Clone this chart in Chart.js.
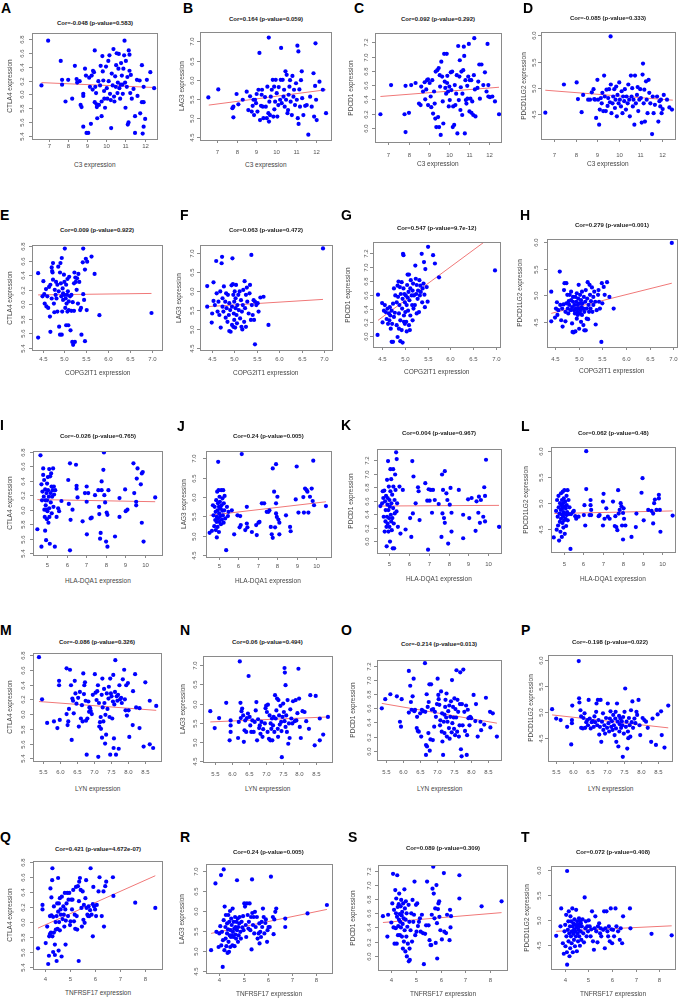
<!DOCTYPE html>
<html>
<head>
<meta charset="utf-8">
<script src="https://cdn.jsdelivr.net/npm/chart.js@4.4.1/dist/chart.umd.min.js"></script>
<style>
  body { margin: 0; background: #fff; width: 678px; height: 1001px; position: relative; overflow: hidden;
         font-family: "Liberation Sans", Arial, sans-serif; }
  canvas { position: absolute; }
  .letter { position: absolute; font-weight: bold; font-size: 14px; line-height: 1; color: #000; }
  .ttl { position: absolute; font-weight: bold; font-size: 6px; line-height: 8px; height: 8px; color: #222; white-space: nowrap; }
  .axt { position: absolute; font-size: 6.5px; line-height: 8px; height: 8px; color: #444; white-space: nowrap; }
</style>
</head>
<body>
<script>
// genes on the axes: rows share the x gene, columns share the y gene
const panelIds = ['A','B','C','D','E','F','G','H','I','J','K','L','M','N','O','P','Q','R','S','T'];
const xGenes = ['C3', 'COPG2IT1', 'HLA-DQA1', 'LYN', 'TNFRSF17'];
const yGenes = ['CTLA4', 'LAG3', 'PDCD1', 'PDCD1LG2'];

const corLabels = [
  'Cor=-0.048 (p-value=0.583)', 'Cor=0.164 (p-value=0.059)', 'Cor=0.092 (p-value=0.292)', 'Cor=-0.085 (p-value=0.333)',
  'Cor=0.009 (p-value=0.922)', 'Cor=0.063 (p-value=0.472)', 'Cor=0.547 (p-value=9.7e-12)', 'Cor=0.279 (p-value=0.001)',
  'Cor=-0.026 (p-value=0.765)', 'Cor=0.24 (p-value=0.005)', 'Cor=0.004 (p-value=0.967)', 'Cor=0.062 (p-value=0.48)',
  'Cor=-0.086 (p-value=0.326)', 'Cor=0.06 (p-value=0.494)', 'Cor=-0.214 (p-value=0.013)', 'Cor=-0.198 (p-value=0.022)',
  'Cor=0.421 (p-value=4.672e-07)', 'Cor=0.24 (p-value=0.005)', 'Cor=0.089 (p-value=0.309)', 'Cor=0.072 (p-value=0.408)'
];

const xTickLabels = [
  ['7', '8', '9', '10', '11', '12'],
  ['4.5', '5.0', '5.5', '6.0', '6.5', '7.0'],
  ['5', '6', '7', '8', '9', '10'],
  ['5.5', '6.0', '6.5', '7.0', '7.5', '8.0', '8.5'],
  ['4', '5', '6', '7', '8']
];
const yTickLabels = [
  ['5.4', '5.6', '5.8', '6.0', '6.2', '6.4', '6.6', '6.8'],
  ['4.5', '5.0', '5.5', '6.0', '6.5', '7.0'],
  ['6.0', '6.2', '6.4', '6.6', '6.8', '7.0', '7.2'],
  ['4.5', '5.0', '5.5', '6.0']
];

// sample points [x, y]
const ptsA = [[6.6,6.13],[6.95,6.77],[7.61,6.48],[7.68,6.21],[7.68,6.14],[7.86,5.9],[8.0,6.21],[8.21,5.94],[8.35,6.41],[8.44,6.22],[8.47,6.17],[8.6,6.19],[8.65,5.85],[8.7,5.82],[8.79,6.01],[8.79,5.98],[8.79,5.54],[8.88,6.37],[8.93,6.27],[8.96,5.45],[9.05,5.45],[9.1,6.24],[9.14,6.11],[9.19,5.58],[9.23,6.27],[9.28,6.07],[9.3,6.34],[9.35,6.32],[9.39,6.63],[9.39,5.89],[9.42,6.11],[9.46,6.02],[9.49,5.86],[9.5,5.82],[9.52,5.66],[9.58,6.19],[9.61,5.85],[9.67,6.13],[9.7,6.41],[9.75,5.9],[9.75,5.69],[9.79,6.55],[9.81,6.33],[9.84,6.2],[9.88,6.05],[9.89,5.94],[9.93,5.81],[9.98,6.4],[10.02,6.09],[10.05,5.94],[10.1,6.48],[10.12,6.19],[10.16,6.56],[10.19,6.01],[10.23,5.92],[10.25,5.52],[10.28,6.3],[10.33,6.13],[10.37,6.65],[10.4,5.97],[10.42,5.9],[10.46,6.26],[10.49,6.11],[10.51,6.42],[10.54,6.59],[10.58,6.02],[10.6,6.17],[10.63,6.37],[10.65,6.58],[10.68,6.09],[10.72,5.94],[10.75,6.14],[10.77,6.45],[10.81,6.27],[10.84,6.14],[10.86,6.01],[10.89,6.37],[10.93,6.56],[10.95,6.77],[10.98,6.17],[11.0,5.81],[11.02,6.48],[11.07,6.11],[11.1,6.25],[11.12,5.57],[11.16,5.6],[11.17,6.63],[11.21,6.34],[11.21,6.57],[11.25,6.02],[11.28,6.28],[11.33,5.94],[11.42,6.08],[11.5,5.69],[11.5,5.45],[11.6,6.21],[11.63,5.98],[11.74,6.2],[11.77,5.73],[11.86,6.42],[11.86,5.89],[11.95,6.11],[11.95,5.89],[11.95,5.54],[11.9,5.44],[12.03,5.65],[12.12,6.21],[12.3,6.32],[12.5,6.09]];
const ptsB = [[6.58,5.54],[7.08,5.75],[7.79,5.26],[7.84,5.02],[7.84,5.3],[8.0,5.63],[8.09,5.36],[8.31,5.48],[8.51,5.69],[8.59,5.21],[8.68,5.57],[8.76,5.17],[8.81,5.32],[8.85,5.48],[8.88,5.08],[8.93,5.48],[8.98,5.39],[9.01,5.63],[9.05,5.17],[9.1,5.74],[9.15,6.7],[9.18,4.95],[9.23,5.32],[9.26,5.61],[9.28,5.74],[9.32,5.3],[9.35,5.0],[9.43,5.55],[9.47,5.3],[9.52,5.0],[9.55,5.82],[9.6,5.13],[9.62,7.1],[9.63,4.91],[9.65,5.43],[9.68,5.08],[9.72,5.56],[9.77,5.74],[9.82,6.0],[9.85,5.04],[9.89,5.82],[9.9,5.23],[9.94,5.43],[9.97,6.0],[10.02,5.65],[10.05,5.04],[10.1,5.34],[10.12,5.81],[10.19,5.48],[10.22,6.0],[10.24,6.83],[10.27,5.39],[10.32,6.0],[10.36,5.56],[10.39,5.74],[10.42,5.3],[10.46,6.22],[10.49,5.48],[10.52,6.13],[10.56,5.13],[10.59,5.21],[10.62,5.61],[10.66,5.82],[10.69,5.99],[10.72,5.43],[10.78,5.08],[10.81,6.1],[10.86,5.56],[10.89,5.74],[10.94,5.34],[10.99,5.91],[11.03,5.48],[11.06,6.89],[11.08,5.0],[11.11,6.74],[11.12,4.85],[11.16,5.75],[11.19,5.3],[11.24,5.99],[11.28,6.22],[11.3,5.52],[11.36,5.08],[11.45,5.32],[11.53,5.34],[11.61,4.57],[11.7,5.56],[11.78,5.3],[11.87,6.17],[11.9,5.04],[11.95,5.84],[11.97,6.95],[12.0,5.48],[12.03,4.95],[12.17,5.95],[12.34,5.74],[12.5,5.13]];
const ptsC = [[6.6,6.19],[7.13,6.6],[7.8,6.19],[7.85,6.59],[7.85,5.94],[8.02,6.21],[8.13,6.6],[8.35,6.63],[8.52,6.34],[8.6,6.32],[8.63,6.58],[8.72,6.51],[8.8,6.64],[8.83,6.4],[8.88,6.54],[8.92,6.67],[8.97,6.68],[8.97,6.32],[9.05,6.63],[9.1,6.44],[9.13,6.29],[9.18,6.67],[9.22,6.2],[9.27,6.51],[9.3,6.34],[9.33,6.13],[9.35,6.79],[9.38,6.01],[9.43,6.81],[9.47,6.15],[9.5,6.84],[9.52,6.01],[9.55,6.74],[9.57,6.58],[9.6,5.9],[9.63,6.93],[9.67,6.72],[9.7,6.37],[9.73,6.06],[9.77,7.04],[9.8,6.65],[9.83,6.56],[9.87,6.48],[9.9,7.04],[9.92,6.63],[9.93,6.73],[9.97,6.51],[10.0,6.3],[10.03,6.58],[10.05,6.39],[10.1,6.78],[10.13,6.53],[10.17,6.79],[10.2,6.01],[10.22,6.3],[10.27,6.04],[10.3,6.6],[10.33,6.32],[10.37,6.48],[10.4,6.74],[10.43,5.92],[10.47,7.15],[10.5,6.39],[10.53,6.72],[10.55,6.95],[10.58,6.25],[10.6,6.57],[10.63,6.79],[10.67,6.18],[10.68,6.48],[10.72,6.81],[10.75,7.14],[10.77,7.01],[10.8,5.92],[10.83,6.67],[10.85,6.39],[10.88,6.34],[10.92,6.59],[10.93,6.41],[10.97,6.72],[11.0,7.18],[11.03,6.23],[11.05,6.67],[11.08,6.41],[11.12,6.67],[11.13,6.21],[11.17,6.37],[11.22,6.18],[11.25,6.74],[11.27,7.26],[11.3,6.54],[11.33,6.16],[11.43,6.56],[11.47,6.65],[11.52,6.89],[11.55,6.41],[11.63,6.89],[11.72,6.6],[11.8,6.78],[11.88,6.51],[11.93,7.18],[11.97,6.6],[11.97,6.44],[12.05,6.43],[12.17,6.44],[12.3,6.37],[12.5,6.19]];
const ptsD = [[6.6,4.52],[7.46,5.06],[8.05,5.1],[8.11,4.78],[8.28,4.53],[8.35,4.86],[8.58,4.77],[8.67,4.77],[8.75,4.91],[8.83,4.97],[8.86,4.78],[8.9,4.77],[8.95,4.42],[9.01,5.15],[9.04,4.77],[9.09,4.29],[9.12,4.58],[9.17,4.8],[9.21,4.7],[9.24,4.9],[9.28,4.55],[9.32,5.23],[9.35,4.83],[9.4,4.55],[9.43,4.96],[9.48,4.65],[9.51,4.8],[9.55,4.97],[9.59,4.72],[9.63,5.06],[9.66,4.51],[9.62,5.98],[9.71,4.7],[9.74,4.83],[9.79,4.97],[9.82,4.61],[9.85,4.77],[9.88,5.02],[9.91,4.45],[9.94,4.86],[9.99,4.7],[10.02,5.1],[10.05,4.77],[10.1,4.64],[10.13,4.93],[10.17,4.51],[10.2,4.83],[10.25,4.74],[10.28,4.97],[10.33,4.58],[10.36,4.83],[10.41,4.7],[10.44,5.06],[10.48,4.77],[10.51,4.45],[10.56,5.23],[10.59,4.83],[10.62,4.99],[10.65,4.64],[10.68,4.77],[10.72,4.29],[10.75,5.23],[10.79,4.7],[10.84,4.86],[10.87,5.01],[10.9,4.55],[10.95,4.77],[10.99,4.97],[11.02,4.8],[11.06,4.33],[11.1,5.25],[11.12,5.46],[11.15,4.7],[11.18,4.96],[11.21,4.35],[11.26,5.12],[11.29,4.77],[11.33,4.51],[11.38,5.15],[11.41,4.9],[11.46,4.7],[11.54,4.11],[11.57,4.83],[11.61,4.51],[11.67,4.67],[11.77,4.83],[11.83,4.35],[11.88,4.74],[11.92,4.64],[11.95,4.77],[11.98,4.51],[12.03,4.59],[12.08,4.86],[12.23,4.77],[12.34,4.62],[12.46,4.58]];
const ptsE = [[4.4,6.43],[4.4,5.54],[4.5,6.11],[4.52,6.32],[4.54,6.14],[4.55,6.01],[4.58,6.21],[4.59,5.97],[4.61,6.11],[4.63,5.95],[4.65,6.24],[4.67,5.83],[4.68,6.27],[4.68,5.62],[4.71,6.51],[4.71,6.08],[4.72,6.46],[4.73,6.44],[4.74,6.57],[4.74,6.34],[4.76,6.01],[4.77,5.89],[4.78,6.2],[4.8,6.13],[4.81,6.31],[4.82,6.08],[4.84,6.27],[4.84,5.9],[4.86,6.52],[4.87,6.18],[4.88,5.69],[4.9,6.44],[4.9,5.58],[4.91,6.57],[4.92,6.29],[4.93,6.11],[4.94,5.58],[4.94,6.64],[4.95,5.9],[4.96,6.22],[4.97,6.15],[4.97,6.06],[4.99,6.41],[5.0,6.13],[5.0,6.31],[5.01,6.77],[5.02,5.95],[5.03,6.08],[5.04,6.27],[5.04,5.71],[5.05,6.01],[5.06,6.13],[5.07,5.9],[5.07,6.35],[5.08,6.18],[5.09,5.71],[5.1,5.92],[5.1,6.04],[5.11,6.38],[5.13,6.11],[5.14,5.64],[5.16,6.13],[5.16,5.91],[5.18,5.48],[5.19,6.03],[5.2,5.44],[5.22,6.29],[5.22,5.91],[5.23,6.44],[5.24,5.48],[5.25,6.37],[5.26,6.31],[5.28,6.2],[5.29,6.36],[5.31,6.01],[5.32,6.42],[5.34,6.31],[5.36,5.92],[5.38,5.95],[5.39,5.58],[5.42,6.58],[5.43,6.77],[5.43,6.14],[5.45,6.06],[5.47,6.48],[5.47,5.49],[5.49,6.63],[5.51,5.92],[5.52,6.59],[5.62,6.66],[5.69,6.42],[5.8,5.85],[6.99,5.88]];
const ptsF = [[4.4,6.12],[4.4,5.58],[4.5,5.16],[4.51,5.4],[4.54,5.73],[4.54,6.22],[4.57,5.62],[4.6,6.78],[4.61,5.93],[4.63,5.45],[4.65,5.71],[4.67,5.36],[4.69,5.98],[4.7,5.03],[4.72,6.72],[4.73,6.89],[4.74,5.58],[4.74,5.8],[4.76,5.45],[4.77,6.11],[4.8,5.71],[4.81,5.29],[4.82,5.93],[4.83,5.54],[4.85,5.18],[4.86,5.89],[4.88,5.36],[4.89,4.94],[4.89,5.67],[4.91,5.49],[4.92,4.92],[4.94,6.14],[4.95,5.1],[4.95,5.58],[4.96,6.85],[4.97,6.17],[4.98,5.89],[4.98,5.05],[4.99,5.4],[5.0,5.71],[5.0,5.23],[5.01,5.98],[5.02,5.03],[5.03,5.54],[5.03,5.8],[5.04,6.15],[5.05,5.36],[5.06,5.14],[5.07,5.62],[5.09,5.89],[5.1,5.49],[5.12,5.98],[5.13,5.27],[5.15,5.75],[5.16,5.05],[5.17,5.45],[5.18,4.98],[5.19,5.62],[5.2,6.02],[5.22,5.18],[5.23,6.25],[5.24,5.54],[5.26,5.89],[5.26,5.05],[5.28,6.08],[5.29,5.71],[5.32,5.4],[5.34,5.93],[5.35,6.15],[5.37,5.23],[5.38,6.94],[5.39,5.62],[5.41,5.36],[5.43,5.75],[5.44,5.23],[5.46,4.59],[5.46,5.71],[5.49,5.62],[5.52,5.67],[5.54,5.45],[5.58,5.82],[5.65,5.84],[5.76,5.1],[6.97,7.11]];
const ptsG = [[4.41,6.6],[4.4,6.02],[4.5,6.48],[4.51,6.2],[4.54,6.37],[4.56,6.45],[4.58,6.35],[4.6,6.25],[4.62,6.4],[4.63,6.18],[4.65,6.33],[4.66,6.23],[4.67,6.42],[4.68,6.3],[4.69,6.11],[4.71,6.37],[4.71,5.92],[4.72,6.18],[4.74,5.92],[4.74,6.47],[4.76,6.28],[4.76,6.69],[4.78,6.34],[4.79,6.59],[4.82,6.16],[4.82,6.49],[4.84,6.73],[4.84,5.99],[4.85,6.57],[4.86,6.79],[4.87,6.33],[4.87,6.11],[4.88,6.45],[4.89,6.71],[4.9,5.93],[4.9,6.23],[4.91,6.61],[4.93,6.78],[4.93,6.09],[4.94,6.4],[4.95,5.91],[4.95,6.54],[4.96,7.19],[4.97,6.69],[4.97,7.17],[4.98,6.3],[4.98,6.21],[4.99,6.61],[5.0,6.49],[5.0,6.18],[5.01,6.35],[5.02,6.59],[5.03,6.21],[5.04,6.07],[5.04,6.45],[5.05,6.74],[5.06,6.56],[5.06,6.89],[5.07,6.37],[5.08,6.64],[5.09,6.16],[5.09,6.89],[5.1,6.52],[5.11,6.09],[5.12,6.69],[5.12,6.3],[5.13,6.81],[5.15,6.59],[5.16,6.45],[5.17,6.23],[5.17,6.66],[5.18,6.76],[5.19,6.4],[5.2,6.59],[5.22,6.45],[5.23,7.02],[5.24,6.83],[5.25,6.61],[5.26,6.33],[5.26,6.74],[5.28,6.54],[5.29,6.66],[5.31,6.35],[5.32,6.81],[5.33,6.59],[5.34,6.73],[5.35,6.64],[5.37,7.19],[5.38,6.49],[5.39,6.69],[5.41,6.76],[5.42,7.07],[5.43,6.6],[5.44,6.42],[5.45,6.97],[5.48,6.71],[5.5,6.5],[5.51,7.29],[5.62,7.17],[5.66,7.05],[5.75,6.85],[6.98,6.95]];
const ptsH = [[4.42,5.07],[4.42,4.51],[4.5,4.58],[4.52,4.75],[4.54,4.87],[4.55,4.63],[4.57,4.72],[4.6,5.45],[4.61,4.82],[4.63,4.53],[4.65,4.75],[4.66,4.41],[4.68,4.83],[4.69,5.1],[4.7,5.23],[4.72,4.51],[4.72,4.69],[4.74,5.23],[4.74,4.85],[4.76,5.01],[4.77,4.75],[4.78,4.66],[4.79,4.89],[4.8,4.82],[4.81,5.01],[4.83,4.72],[4.84,4.91],[4.84,5.07],[4.86,4.47],[4.86,4.78],[4.87,4.31],[4.88,4.88],[4.88,4.97],[4.89,4.3],[4.9,4.72],[4.91,4.82],[4.92,4.66],[4.93,4.97],[4.93,4.32],[4.94,4.75],[4.95,4.88],[4.96,4.56],[4.96,5.04],[4.97,4.69],[4.98,4.82],[4.98,4.63],[4.99,4.94],[5.0,5.2],[5.0,4.75],[5.01,4.37],[5.02,4.85],[5.03,4.66],[5.03,5.01],[5.04,4.72],[5.05,4.91],[5.05,4.5],[5.06,4.78],[5.07,5.07],[5.07,4.63],[5.08,4.85],[5.1,4.44],[5.1,4.75],[5.11,4.97],[5.12,4.34],[5.12,4.69],[5.14,4.88],[5.15,4.34],[5.15,5.1],[5.17,4.75],[5.17,4.56],[5.18,4.94],[5.19,5.25],[5.2,4.55],[5.21,4.82],[5.22,4.69],[5.23,5.2],[5.24,5.01],[5.25,4.75],[5.26,4.89],[5.28,5.15],[5.29,4.69],[5.31,4.97],[5.31,4.82],[5.33,5.07],[5.35,4.88],[5.36,4.45],[5.38,4.72],[5.41,5.01],[5.42,5.1],[5.43,4.88],[5.45,4.75],[5.48,4.12],[5.49,5.23],[5.5,4.85],[5.53,5.16],[5.55,5.01],[5.6,5.25],[5.65,4.97],[5.74,4.75],[6.97,5.99]];
const ptsI = [[4.48,5.73],[4.64,6.75],[4.69,5.49],[4.69,6.35],[4.72,6.13],[4.74,6.25],[4.78,6.48],[4.78,6.57],[4.81,6.18],[4.83,6.41],[4.84,6.0],[4.86,5.9],[4.88,6.28],[4.88,5.71],[4.9,6.13],[4.91,6.06],[4.93,5.58],[4.95,6.23],[4.95,6.0],[4.97,5.87],[4.98,6.36],[4.98,6.13],[5.0,5.98],[5.02,6.45],[5.03,6.27],[5.05,5.82],[5.07,6.18],[5.09,6.56],[5.09,6.02],[5.1,5.9],[5.12,5.53],[5.14,6.46],[5.16,6.23],[5.17,6.1],[5.19,6.5],[5.21,6.32],[5.22,5.95],[5.24,6.18],[5.26,6.27],[5.29,6.57],[5.31,6.04],[5.33,6.32],[5.34,6.21],[5.38,5.49],[5.4,6.27],[5.47,5.9],[5.55,6.02],[5.6,5.98],[5.72,6.12],[6.07,6.41],[6.1,6.08],[6.16,6.64],[6.16,5.44],[6.19,5.86],[6.29,6.0],[6.47,6.62],[6.5,6.33],[6.5,6.29],[6.55,6.17],[6.81,5.84],[6.93,6.23],[7.02,6.32],[7.02,6.11],[7.03,5.66],[7.1,6.23],[7.22,5.88],[7.28,5.89],[7.45,6.2],[7.62,6.27],[7.66,6.04],[7.67,5.94],[7.71,5.6],[7.74,5.68],[7.79,6.39],[7.79,6.27],[7.88,6.55],[7.91,6.79],[7.93,6.2],[7.97,6.1],[8.02,5.56],[8.05,5.96],[8.09,5.93],[8.09,5.49],[8.14,6.27],[8.48,5.63],[8.71,6.16],[8.71,5.9],[9.0,6.28],[9.03,5.98],[9.12,6.0],[9.43,6.64],[9.47,6.23],[9.57,6.11],[9.57,6.06],[9.6,6.43],[9.64,6.57],[9.81,6.35],[9.86,6.5],[9.91,6.52],[9.86,5.82],[9.95,5.56],[10.55,6.17]];
const ptsJ = [[4.54,5.08],[4.66,5.13],[4.71,5.79],[4.74,5.53],[4.78,5.25],[4.8,5.75],[4.83,5.41],[4.85,5.62],[4.86,5.15],[4.88,5.92],[4.9,5.36],[4.91,5.49],[4.91,4.96],[4.93,6.14],[4.95,5.66],[4.95,5.23],[4.97,5.84],[4.98,5.45],[4.98,6.91],[5.0,6.18],[5.02,5.75],[5.02,5.1],[5.03,5.58],[5.05,6.01],[5.05,5.36],[5.07,5.88],[5.09,5.51],[5.1,5.71],[5.12,5.3],[5.14,6.18],[5.15,5.79],[5.17,5.42],[5.19,5.65],[5.2,5.97],[5.22,5.53],[5.24,6.18],[5.26,5.34],[5.27,5.84],[5.29,5.66],[5.31,6.03],[5.34,5.45],[5.39,4.63],[5.43,5.75],[5.48,5.51],[5.51,5.62],[5.68,5.66],[5.8,5.04],[5.97,5.53],[6.08,5.22],[6.11,5.51],[6.14,5.28],[6.19,7.11],[6.37,5.15],[6.45,5.75],[6.45,5.32],[6.48,5.22],[6.71,5.1],[6.93,5.28],[6.96,5.02],[7.05,5.34],[7.1,5.36],[7.22,5.84],[7.34,5.84],[7.47,5.62],[7.56,5.62],[7.61,5.66],[7.68,5.23],[7.73,5.04],[7.78,4.95],[7.78,6.74],[7.85,6.14],[7.9,5.22],[7.95,6.85],[7.95,5.84],[7.95,5.58],[7.99,5.49],[8.02,6.01],[8.07,5.42],[8.12,5.34],[8.12,5.04],[8.46,5.53],[8.67,5.23],[8.7,5.12],[8.96,5.94],[9.01,6.79],[9.1,5.6],[9.35,6.0],[9.38,5.6],[9.44,6.22],[9.52,6.18],[9.56,6.14],[9.61,5.6],[9.69,6.01],[9.78,6.22],[9.83,5.9],[9.86,6.94],[9.9,5.79],[10.51,5.77]];
const ptsK = [[4.54,6.52],[4.63,6.56],[4.66,6.74],[4.69,6.64],[4.71,6.36],[4.74,6.75],[4.76,6.14],[4.78,6.59],[4.8,6.29],[4.81,6.46],[4.83,6.67],[4.85,6.21],[4.86,5.92],[4.88,6.91],[4.88,6.36],[4.9,6.54],[4.91,6.64],[4.91,6.26],[4.93,7.19],[4.95,6.46],[4.95,6.14],[4.97,6.81],[4.98,6.34],[5.0,6.61],[5.0,6.21],[5.02,6.51],[5.03,5.99],[5.05,7.07],[5.05,6.74],[5.07,6.39],[5.09,6.92],[5.09,6.29],[5.1,6.56],[5.12,6.16],[5.14,6.69],[5.15,6.34],[5.17,5.89],[5.19,7.07],[5.19,6.49],[5.2,6.81],[5.22,6.26],[5.24,5.89],[5.26,6.61],[5.27,6.41],[5.29,6.99],[5.31,6.76],[5.34,7.32],[5.36,6.44],[5.37,7.22],[5.39,6.56],[5.43,6.21],[5.51,6.81],[5.56,6.11],[5.68,6.76],[5.82,6.17],[6.05,6.34],[6.11,6.06],[6.16,7.19],[6.19,6.41],[6.22,6.96],[6.33,6.56],[6.45,6.8],[6.48,6.74],[6.53,6.31],[6.82,6.86],[6.92,6.6],[6.96,5.87],[6.99,6.77],[7.04,6.6],[7.09,6.76],[7.16,6.42],[7.21,6.76],[7.3,6.61],[7.5,6.55],[7.64,6.06],[7.67,6.99],[7.69,6.41],[7.72,6.76],[7.77,6.34],[7.81,6.27],[7.81,7.04],[7.89,6.71],[7.94,6.61],[7.98,5.96],[8.06,6.54],[8.1,6.79],[8.15,6.42],[8.15,6.14],[8.52,6.76],[8.74,6.39],[8.74,6.04],[8.99,6.62],[9.05,6.34],[9.17,6.64],[9.37,6.15],[9.42,6.59],[9.51,6.42],[9.54,6.66],[9.59,6.27],[9.64,6.61],[9.76,6.36],[9.81,6.8],[9.85,6.67],[9.9,7.21],[9.85,6.29],[10.56,6.21]];
const ptsL = [[4.49,4.33],[4.61,4.84],[4.64,4.48],[4.66,5.05],[4.69,4.73],[4.71,4.56],[4.73,5.13],[4.74,4.91],[4.76,4.27],[4.78,4.79],[4.8,4.63],[4.81,4.99],[4.83,4.44],[4.85,4.86],[4.86,4.69],[4.86,5.18],[4.88,4.95],[4.9,4.34],[4.9,4.77],[4.91,5.05],[4.93,4.61],[4.93,4.89],[4.95,5.21],[4.97,4.73],[4.97,4.99],[4.98,4.52],[4.98,4.82],[5.0,5.08],[5.02,4.66],[5.02,4.92],[5.03,5.24],[5.05,4.4],[5.05,4.79],[5.07,5.02],[5.09,4.69],[5.1,4.89],[5.12,4.55],[5.14,5.13],[5.14,4.76],[5.15,4.95],[5.17,4.82],[5.19,5.24],[5.2,4.66],[5.24,5.05],[5.26,4.78],[5.29,4.91],[5.34,4.11],[5.37,4.78],[5.46,4.82],[5.51,4.84],[5.58,4.74],[5.63,4.69],[5.75,4.73],[6.02,4.76],[6.05,4.95],[6.09,4.56],[6.14,5.26],[6.14,5.99],[6.31,4.76],[6.36,5.05],[6.36,4.95],[6.39,4.86],[6.39,4.76],[6.77,4.74],[6.82,4.76],[6.99,5.02],[6.99,4.56],[7.02,5.17],[7.07,4.69],[7.16,4.89],[7.24,4.73],[7.33,4.69],[7.5,5.02],[7.59,4.55],[7.62,4.74],[7.67,4.53],[7.72,4.47],[7.76,5.24],[7.79,4.79],[7.84,4.86],[7.89,4.99],[7.93,4.93],[7.96,4.56],[8.01,4.8],[8.01,4.29],[8.04,4.89],[8.06,4.69],[8.13,4.56],[8.44,4.34],[8.66,4.53],[8.69,4.79],[8.95,5.19],[9.0,5.47],[9.06,4.66],[9.29,4.86],[9.46,4.84],[9.54,4.6],[9.54,4.79],[9.59,4.99],[9.63,5.06],[9.71,4.86],[9.83,5.08],[9.83,5.15],[9.88,4.86],[9.91,4.44],[10.53,4.75]];
const ptsM = [[5.38,6.77],[5.47,6.2],[5.62,5.88],[5.82,5.9],[5.92,5.81],[5.97,6.45],[5.97,6.39],[5.99,5.92],[6.19,6.62],[6.19,6.0],[6.22,5.85],[6.24,5.9],[6.26,6.07],[6.29,6.6],[6.32,6.39],[6.34,5.65],[6.36,6.21],[6.38,6.18],[6.4,6.01],[6.43,6.45],[6.45,6.28],[6.48,6.14],[6.53,6.22],[6.55,5.83],[6.58,6.3],[6.61,5.94],[6.64,6.12],[6.66,5.9],[6.68,6.55],[6.7,6.27],[6.71,6.39],[6.73,6.43],[6.75,6.18],[6.76,5.91],[6.78,5.45],[6.8,5.94],[6.83,6.17],[6.85,6.03],[6.86,6.09],[6.88,6.08],[6.9,6.04],[6.93,6.0],[6.96,6.26],[7.02,6.54],[7.04,6.29],[7.07,6.19],[7.09,6.31],[7.11,6.39],[7.12,5.42],[7.14,6.15],[7.15,5.83],[7.17,5.89],[7.19,5.96],[7.2,5.8],[7.22,6.26],[7.23,5.68],[7.24,6.48],[7.25,6.09],[7.27,5.9],[7.29,6.34],[7.3,6.15],[7.32,5.6],[7.33,5.99],[7.35,5.72],[7.37,6.28],[7.39,6.07],[7.42,6.21],[7.43,6.37],[7.45,5.96],[7.47,6.48],[7.47,5.45],[7.49,6.28],[7.51,6.24],[7.53,5.94],[7.55,6.17],[7.56,6.53],[7.57,5.54],[7.58,5.67],[7.59,6.13],[7.61,6.3],[7.62,6.73],[7.64,5.45],[7.66,6.24],[7.68,6.18],[7.7,6.26],[7.72,5.53],[7.74,6.39],[7.76,6.2],[7.79,6.22],[7.81,6.15],[7.84,6.47],[7.88,6.6],[7.9,6.2],[7.92,6.05],[7.94,6.39],[7.96,5.98],[7.99,6.42],[8.01,6.05],[8.03,5.69],[8.13,5.85],[8.14,6.31],[8.2,6.54],[8.23,6.09],[8.33,6.08],[8.33,5.81],[8.45,5.56],[8.5,6.43],[8.63,5.59],[8.63,6.18],[8.73,5.54],[8.82,6.11]];
const ptsN = [[5.37,5.8],[5.5,5.36],[5.63,5.62],[5.84,6.02],[5.94,5.04],[5.97,5.43],[5.97,5.56],[5.97,5.26],[6.19,5.1],[6.21,5.52],[6.24,7.1],[6.26,6.02],[6.27,5.62],[6.29,5.8],[6.31,5.87],[6.34,5.69],[6.36,5.0],[6.38,5.3],[6.4,5.56],[6.43,5.26],[6.45,5.62],[6.48,5.74],[6.5,6.72],[6.53,5.65],[6.55,5.43],[6.58,5.26],[6.61,5.56],[6.65,5.26],[6.68,5.52],[6.71,5.82],[6.73,6.04],[6.75,5.04],[6.78,5.59],[6.81,5.36],[6.83,5.43],[6.85,5.21],[6.88,5.52],[6.91,5.13],[6.93,5.33],[6.98,5.48],[7.0,5.88],[7.02,5.95],[7.04,5.78],[7.06,5.26],[7.07,5.97],[7.1,5.08],[7.12,5.69],[7.14,5.04],[7.15,5.48],[7.17,5.34],[7.19,5.61],[7.2,5.04],[7.22,5.43],[7.24,5.65],[7.26,5.26],[7.28,6.22],[7.3,5.61],[7.32,5.82],[7.34,6.13],[7.36,5.34],[7.37,5.13],[7.38,6.09],[7.4,5.69],[7.42,5.45],[7.44,5.94],[7.46,5.52],[7.47,5.28],[7.48,4.6],[7.5,5.65],[7.52,6.0],[7.54,5.78],[7.56,6.93],[7.56,5.54],[7.57,6.81],[7.59,6.48],[7.59,5.39],[7.61,5.69],[7.63,5.26],[7.65,6.09],[7.67,4.95],[7.69,5.48],[7.71,5.1],[7.73,5.85],[7.76,5.61],[7.79,5.48],[7.81,6.06],[7.86,5.54],[7.89,6.09],[7.91,5.56],[7.94,5.75],[7.97,6.91],[7.99,6.13],[8.01,5.39],[8.04,5.1],[8.09,5.8],[8.15,5.78],[8.2,5.54],[8.28,5.34],[8.32,6.22],[8.45,4.91],[8.48,6.2],[8.6,5.61],[8.6,5.04],[8.7,5.19],[8.84,5.65]];
const ptsO = [[5.39,6.6],[5.49,6.73],[5.64,6.8],[5.83,6.77],[5.92,6.41],[5.95,6.34],[5.97,6.73],[6.18,7.13],[6.18,6.54],[6.22,6.92],[6.24,6.69],[6.26,6.58],[6.29,6.77],[6.32,7.02],[6.34,6.56],[6.36,6.58],[6.41,6.32],[6.42,6.48],[6.44,6.28],[6.47,6.27],[6.51,6.53],[6.54,6.2],[6.56,6.58],[6.6,6.56],[6.65,7.24],[6.66,6.55],[6.68,6.08],[6.68,5.94],[6.7,6.8],[6.71,6.06],[6.73,6.62],[6.75,6.25],[6.76,6.69],[6.78,6.94],[6.79,6.0],[6.81,6.16],[6.83,6.94],[6.85,6.58],[6.88,6.15],[6.89,6.59],[6.92,6.34],[6.94,6.55],[6.97,6.48],[7.0,6.66],[7.02,7.02],[7.04,6.79],[7.05,6.73],[7.07,6.65],[7.09,6.36],[7.1,6.43],[7.12,6.84],[7.14,6.27],[7.15,6.53],[7.16,6.13],[7.18,5.94],[7.2,6.41],[7.22,6.51],[7.22,6.25],[7.24,6.62],[7.25,6.72],[7.27,6.47],[7.28,6.81],[7.29,6.2],[7.31,6.41],[7.33,6.56],[7.35,6.32],[7.36,6.64],[7.37,6.17],[7.39,6.48],[7.41,6.7],[7.43,6.26],[7.44,7.0],[7.45,6.39],[7.47,6.62],[7.49,6.47],[7.5,6.31],[7.51,6.74],[7.53,6.22],[7.54,6.59],[7.56,6.47],[7.57,7.14],[7.59,6.27],[7.6,6.72],[7.62,6.55],[7.64,6.2],[7.66,6.36],[7.67,6.66],[7.68,7.11],[7.7,6.02],[7.72,5.92],[7.73,6.66],[7.75,6.36],[7.77,7.15],[7.8,6.55],[7.82,6.28],[7.85,6.64],[7.87,5.94],[7.88,6.22],[7.9,6.58],[7.92,6.46],[7.95,6.36],[7.97,6.48],[8.0,6.46],[8.07,6.79],[8.12,6.42],[8.14,6.66],[8.19,6.2],[8.27,6.41],[8.29,6.29],[8.38,6.37],[8.43,6.75],[8.55,6.55],[8.56,6.33],[8.63,6.53],[8.75,6.2]];
const ptsP = [[5.39,5.05],[5.51,4.87],[5.64,4.84],[5.83,4.71],[5.95,4.37],[5.97,4.78],[5.97,4.84],[5.98,5.12],[6.17,5.98],[6.18,5.26],[6.19,5.18],[6.22,5.03],[6.24,4.91],[6.24,4.69],[6.29,4.68],[6.31,4.88],[6.34,4.97],[6.36,4.69],[6.39,4.8],[6.42,4.84],[6.44,4.74],[6.46,5.23],[6.49,4.87],[6.52,4.68],[6.55,4.8],[6.58,4.82],[6.61,4.71],[6.63,4.91],[6.65,4.8],[6.68,5.0],[6.69,5.16],[6.71,4.74],[6.73,5.23],[6.75,4.84],[6.77,4.56],[6.79,4.71],[6.81,5.23],[6.83,4.42],[6.85,4.81],[6.88,4.97],[6.89,4.65],[6.92,4.74],[6.94,4.58],[6.97,4.88],[7.0,4.69],[7.02,5.16],[7.04,4.78],[7.06,4.62],[7.08,4.87],[7.1,5.01],[7.12,4.71],[7.14,4.82],[7.16,4.65],[7.18,4.94],[7.2,4.74],[7.22,4.55],[7.24,4.87],[7.25,5.0],[7.26,4.68],[7.27,4.42],[7.29,5.16],[7.31,4.81],[7.33,4.33],[7.35,4.92],[7.36,4.62],[7.37,4.76],[7.39,4.87],[7.41,4.69],[7.43,4.82],[7.45,4.74],[7.46,4.13],[7.47,4.9],[7.49,4.58],[7.51,5.0],[7.53,5.45],[7.55,4.71],[7.57,4.81],[7.59,4.29],[7.61,4.62],[7.62,4.49],[7.64,4.88],[7.66,4.74],[7.68,4.52],[7.7,5.03],[7.72,4.8],[7.74,5.2],[7.76,4.69],[7.8,4.87],[7.83,4.78],[7.86,5.0],[7.88,4.94],[7.92,5.23],[7.95,4.74],[7.97,4.55],[8.04,4.88],[8.09,4.84],[8.14,4.81],[8.19,4.69],[8.29,4.42],[8.33,4.87],[8.43,4.36],[8.48,4.95],[8.58,5.01],[8.6,4.55],[8.68,4.31],[8.79,5.12]];
const ptsQ = [[3.7,5.65],[3.88,6.23],[3.88,6.17],[4.01,5.72],[4.07,5.94],[4.11,5.44],[4.14,5.55],[4.15,5.81],[4.18,6.08],[4.18,5.84],[4.2,6.45],[4.22,5.86],[4.24,6.09],[4.24,6.33],[4.27,6.56],[4.28,6.72],[4.28,5.81],[4.31,5.6],[4.31,6.07],[4.34,6.21],[4.34,5.86],[4.38,5.56],[4.38,5.7],[4.41,6.0],[4.42,5.9],[4.45,6.08],[4.45,5.48],[4.47,6.25],[4.49,5.91],[4.51,6.59],[4.51,6.14],[4.53,5.62],[4.54,6.25],[4.55,6.0],[4.58,6.32],[4.58,5.89],[4.61,6.17],[4.62,6.1],[4.65,5.54],[4.66,6.34],[4.69,6.04],[4.72,6.21],[4.74,6.1],[4.76,5.94],[4.78,6.39],[4.8,6.17],[4.81,5.7],[4.82,6.02],[4.85,6.25],[4.88,6.39],[4.91,6.08],[4.93,6.3],[4.96,6.39],[4.99,5.96],[5.01,6.01],[5.04,6.3],[5.07,6.17],[5.09,6.3],[5.12,6.43],[5.15,6.01],[5.18,6.1],[5.2,5.91],[5.23,6.47],[5.26,6.08],[5.28,5.9],[5.31,6.48],[5.34,5.48],[5.35,6.28],[5.36,6.54],[5.39,6.59],[5.42,6.43],[5.45,6.19],[5.47,5.94],[5.5,6.41],[5.53,6.03],[5.55,6.23],[5.58,5.99],[5.61,6.32],[5.64,6.56],[5.66,6.19],[5.69,6.1],[5.72,6.08],[5.74,6.21],[5.77,6.08],[5.8,6.16],[5.82,6.72],[5.86,6.1],[5.91,6.24],[5.91,5.81],[5.93,6.47],[5.96,6.21],[6.0,6.17],[6.04,6.08],[6.07,6.23],[6.14,6.41],[6.18,6.6],[6.27,6.08],[6.34,6.41],[6.36,5.94],[6.41,6.48],[6.45,6.54],[6.72,6.6],[6.74,6.35],[7.62,6.26],[8.43,6.19]];
const ptsR = [[3.66,5.02],[3.84,6.69],[3.88,5.48],[3.97,5.1],[4.0,5.44],[4.04,5.62],[4.07,6.9],[4.08,5.14],[4.11,5.48],[4.14,4.6],[4.15,5.27],[4.18,7.04],[4.18,5.77],[4.21,5.02],[4.22,6.11],[4.25,5.6],[4.26,5.31],[4.27,5.9],[4.29,5.12],[4.32,5.69],[4.32,5.44],[4.34,4.95],[4.36,5.54],[4.37,5.9],[4.38,5.23],[4.4,4.98],[4.41,5.73],[4.43,5.39],[4.44,6.0],[4.45,5.1],[4.47,5.52],[4.48,5.35],[4.49,5.81],[4.51,5.65],[4.52,5.39],[4.54,5.14],[4.55,6.06],[4.56,5.48],[4.58,5.35],[4.59,5.73],[4.62,5.56],[4.63,5.12],[4.65,5.85],[4.66,5.41],[4.67,5.6],[4.69,5.31],[4.7,5.73],[4.73,6.77],[4.73,5.52],[4.76,5.81],[4.77,5.23],[4.78,5.6],[4.8,5.39],[4.82,5.69],[4.84,5.85],[4.87,5.48],[4.89,5.31],[4.92,5.73],[4.95,5.59],[4.98,5.87],[5.0,5.52],[5.03,6.19],[5.06,6.11],[5.09,5.65],[5.11,5.35],[5.14,6.19],[5.17,5.9],[5.2,5.56],[5.22,5.73],[5.25,6.19],[5.28,5.52],[5.31,5.85],[5.33,5.04],[5.35,6.79],[5.36,5.95],[5.39,5.65],[5.42,5.85],[5.44,5.44],[5.47,5.98],[5.5,5.6],[5.55,5.85],[5.58,5.31],[5.62,5.44],[5.65,5.69],[5.66,5.19],[5.69,5.48],[5.72,5.35],[5.75,5.73],[5.77,5.6],[5.8,6.06],[5.83,5.85],[5.86,5.44],[5.9,5.7],[5.92,5.79],[5.97,5.23],[5.99,5.52],[6.03,5.6],[6.08,5.6],[6.13,6.86],[6.21,5.85],[6.24,5.42],[6.27,5.79],[6.31,5.98],[6.35,6.06],[6.72,5.81],[6.72,5.6],[7.64,5.94],[8.44,6.15]];
const ptsS = [[3.66,6.56],[3.84,6.27],[3.87,6.58],[4.0,6.47],[4.04,6.74],[4.07,7.16],[4.09,6.4],[4.11,6.65],[4.13,6.17],[4.16,6.93],[4.18,6.39],[4.19,6.6],[4.2,6.81],[4.22,6.17],[4.23,6.55],[4.24,7.14],[4.26,6.69],[4.27,6.29],[4.28,6.42],[4.3,6.73],[4.31,6.51],[4.32,6.88],[4.34,6.59],[4.35,6.29],[4.36,6.48],[4.38,6.7],[4.39,6.4],[4.4,6.79],[4.42,6.57],[4.43,6.27],[4.44,6.62],[4.46,6.45],[4.47,6.1],[4.48,6.74],[4.5,6.53],[4.51,6.2],[4.53,6.94],[4.54,6.36],[4.55,6.67],[4.57,6.06],[4.58,6.51],[4.59,6.77],[4.61,6.27],[4.62,6.6],[4.63,5.99],[4.65,6.41],[4.67,6.17],[4.7,6.72],[4.71,5.92],[4.73,6.48],[4.74,6.1],[4.75,5.94],[4.78,6.36],[4.81,6.6],[4.84,6.2],[4.86,6.79],[4.89,6.48],[4.92,6.58],[4.94,7.05],[4.97,6.29],[5.0,6.72],[5.02,6.34],[5.05,6.74],[5.08,6.42],[5.12,6.48],[5.16,6.53],[5.19,6.34],[5.24,6.58],[5.28,6.32],[5.32,5.88],[5.37,6.31],[5.41,6.43],[5.45,7.05],[5.51,6.43],[5.55,6.22],[5.59,6.15],[5.62,6.15],[5.64,6.58],[5.67,6.95],[5.7,7.26],[5.72,6.88],[5.75,6.53],[5.78,6.67],[5.8,6.18],[5.83,7.0],[5.85,6.46],[5.86,5.96],[5.89,6.66],[5.91,6.74],[5.94,6.77],[5.95,6.55],[5.99,6.36],[6.05,6.23],[6.13,7.17],[6.15,6.34],[6.22,6.32],[6.26,6.58],[6.36,6.22],[6.38,6.65],[6.4,6.4],[6.42,6.56],[6.76,7.14],[6.76,6.81],[7.66,6.7],[8.47,6.77]];
const ptsT = [[3.65,4.68],[3.83,4.87],[3.86,5.23],[3.93,4.53],[3.97,4.32],[4.0,4.77],[4.03,4.9],[4.04,4.47],[4.07,5.1],[4.08,4.67],[4.1,4.35],[4.11,5.98],[4.11,4.1],[4.14,4.8],[4.16,4.97],[4.17,4.57],[4.18,5.17],[4.2,4.73],[4.21,4.27],[4.23,4.87],[4.24,4.43],[4.25,5.07],[4.27,4.67],[4.28,4.97],[4.3,4.53],[4.31,4.77],[4.33,5.23],[4.34,4.87],[4.35,4.35],[4.37,4.72],[4.38,4.93],[4.4,4.6],[4.41,4.81],[4.42,5.01],[4.44,4.47],[4.45,4.77],[4.47,4.9],[4.48,4.67],[4.49,5.2],[4.51,4.85],[4.52,4.37],[4.54,4.97],[4.55,4.73],[4.57,4.57],[4.58,4.9],[4.59,4.8],[4.61,5.03],[4.62,4.67],[4.64,4.87],[4.65,4.48],[4.66,4.97],[4.68,4.77],[4.69,4.93],[4.71,4.6],[4.73,4.87],[4.76,5.01],[4.79,4.73],[4.82,4.55],[4.85,5.45],[4.88,4.83],[4.9,4.97],[4.93,4.67],[4.96,4.87],[4.99,4.77],[5.02,4.99],[5.06,4.87],[5.1,4.67],[5.13,4.81],[5.16,5.17],[5.2,4.57],[5.24,4.4],[5.27,4.83],[5.3,5.07],[5.34,4.77],[5.39,4.55],[5.41,4.87],[5.46,4.93],[5.5,4.73],[5.53,4.83],[5.55,4.67],[5.63,4.8],[5.67,5.17],[5.7,4.43],[5.72,4.83],[5.77,5.17],[5.81,4.77],[5.84,4.67],[5.87,4.87],[5.91,4.57],[5.95,5.23],[5.98,4.81],[6.01,4.53],[6.05,4.8],[6.09,4.67],[6.15,5.23],[6.19,4.87],[6.26,4.77],[6.33,4.6],[6.37,4.83],[6.43,4.53],[6.47,5.07],[6.76,5.23],[6.78,4.83],[7.67,4.72],[8.52,4.69]];

const points = [ptsA, ptsB, ptsC, ptsD, ptsE, ptsF, ptsG, ptsH, ptsI, ptsJ, ptsK, ptsL, ptsM, ptsN, ptsO, ptsP, ptsQ, ptsR, ptsS, ptsT];

// fitted regression line ends
const fits = [
  [[6.6,6.17],[12.5,6.1]], [[6.6,5.34],[12.5,5.74]], [[6.6,6.44],[12.5,6.57]], [[6.6,4.95],[12.5,4.76]],
  [[4.4,6.13],[6.99,6.15]], [[4.4,5.58],[6.97,5.77]], [[4.41,6.23],[6.97,7.47]], [[4.42,4.66],[6.97,5.23]],
  [[4.48,6.14],[10.55,6.11]], [[4.54,5.53],[10.51,5.88]], [[4.54,6.52],[10.56,6.53]], [[4.52,4.79],[10.53,4.84]],
  [[5.38,6.17],[8.82,6.05]], [[5.37,5.52],[8.84,5.65]], [[5.39,6.67],[8.75,6.39]], [[5.39,4.94],[8.79,4.69]],
  [[3.7,5.92],[8.43,6.62]], [[3.66,5.44],[8.44,6.04]], [[3.66,6.47],[8.47,6.61]], [[3.65,4.77],[8.52,4.88]]
];

// page layout of each panel:
// box l,t,r,b | x min,max | y min,max | letter x,y | title y | y tick label gap | x tick label gap | y title x | x title y
const frames = [
  [32.3,33.3,156.7,139.3, 6.105,12.65, 5.363,6.88, 1,3, 22.7, 9.6,7.4, 10,165],
  [200,32.3,331,140, 6.16,12.75, 4.43,7.246, 183,3, 19.3, 7.7,11.7, 181.7,165],
  [375.3,33.3,500.7,141.7, 6.33,12.6, 5.8,7.333, 354,3, 19.3, 9,13.3, 351.3,164],
  [541,32.3,674.7,139.3, 6.4,12.6, 4.016,6.065, 523,3, 18.3, 7.3,15.7, 523.5,164],
  [32.3,245,161.7,350, 4.26,7.23, 5.368,6.82, 0,210, 230, 9,9, 10,373.3],
  [200,245,331.7,350, 4.24,7.17, 4.44,7.2, 180,210, 230, 7.7,9, 179,373],
  [373,241.7,499.7,346.7, 4.3,7.09, 5.846,7.36, 341,210, 227.7, 6.7,12.3, 348,372.3],
  [546.7,239.3,676.7,346.7, 4.33,7.08, 4.025,6.065, 520,210, 225, 11,11.6, 520,371],
  [33.3,451,161.7,555, 4.255,10.9, 5.375,6.81, 0,420, 436, 10,10, 10,580.7],
  [205.7,451,331,556.7, 4.355,10.77, 4.455,7.19, 177,421, 436, 12.4,9.3, 183.3,580.7],
  [377.3,449.3,500.7,552.7, 4.37,10.66, 5.82,7.37, 341,420, 433.3, 10,11.3, 351.3,579.3],
  [551.3,447.3,674.7,551.7, 4.35,10.65, 4.05,6.07, 521,421, 432.7, 10,11.6, 526.3,579.3],
  [33.3,653,160.7,761, 5.205,8.96, 5.364,6.827, 0,625, 641.7, 10,11.3, 10,789],
  [203.3,655.7,332.3,761.7, 5.155,8.96, 4.473,7.243, 180,625, 642.3, 8.3,11.6, 183.3,789],
  [377.3,660,501.3,760, 5.25,8.87, 5.868,7.285, 341,625, 644.3, 7.6,12.3, 353,789],
  [548,655,672.3,761, 5.27,8.9, 4.05,6.097, 521,625, 642.3, 6.7,11.3, 531,789],
  [33.3,861,161.7,969.3, 3.497,8.7, 5.373,6.817, 0,832, 849.3, 10,10, 10,993.3],
  [205.7,864,331.7,972.7, 3.45,8.65, 4.449,7.176, 180,832, 851.7, 10,7.3, 181.7,994],
  [378,865,507.3,970, 3.46,8.69, 5.797,7.285, 348,832, 848.3, 9.3,10, 353,994],
  [551.3,866,674.7,969.3, 3.43,8.66, 4.014,6.08, 521,832, 851.7, 11.6,10.7, 527.3,994]
];

const PADL = 36, PADT = 6, PADR = 6, PADB = 20;

// R-style frame, outward ticks, rotated y labels and y axis title
const rAxes = {
  id: 'rAxes',
  afterDraw(chart, args, opts) {
    const { ctx, chartArea: a, scales: { x, y } } = chart;
    ctx.save();
    ctx.strokeStyle = '#8a8a8a';
    ctx.lineWidth = 1;
    ctx.strokeRect(Math.round(a.left) + 0.5, Math.round(a.top) + 0.5,
                   Math.round(a.right - a.left), Math.round(a.bottom - a.top));
    ctx.fillStyle = '#555';
    ctx.font = '6px "Liberation Sans", Arial, sans-serif';
    ctx.textAlign = 'center';
    ctx.textBaseline = 'middle';
    opts.xt.forEach(t => {
      const v = Number(t);
      if (v < x.min || v > x.max) return;
      const px = Math.round(x.getPixelForValue(v)) + 0.5;
      ctx.beginPath(); ctx.moveTo(px, a.bottom); ctx.lineTo(px, a.bottom + 3); ctx.stroke();
      ctx.fillText(t, px, Math.round(a.bottom + opts.xl));
    });
    opts.yt.forEach(t => {
      const v = Number(t);
      if (v < y.min || v > y.max) return;
      const py = Math.round(y.getPixelForValue(v)) + 0.5;
      ctx.beginPath(); ctx.moveTo(a.left - 3, py); ctx.lineTo(a.left, py); ctx.stroke();
      ctx.save();
      ctx.translate(Math.round(a.left - opts.yl), py);
      ctx.rotate(-Math.PI / 2);
      ctx.fillText(t, 0, 0);
      ctx.restore();
    });
    // y axis title
    ctx.fillStyle = '#444';
    ctx.font = '6.5px "Liberation Sans", Arial, sans-serif';
    ctx.translate(Math.round(a.left - opts.ytg), Math.round((a.top + a.bottom) / 2));
    ctx.rotate(-Math.PI / 2);
    ctx.fillText(opts.ytitle, 0, 0);
    ctx.restore();
  }
};

// text placed with its centre on (cx, cy), whole pixels so it stays crisp
function addText(cls, text, cx, cy) {
  const d = document.createElement('div');
  d.className = cls;
  d.textContent = text;
  document.body.appendChild(d);
  const w = Math.round(d.offsetWidth);
  d.style.width = w + 'px';
  d.style.left = Math.round(cx - w / 2) + 'px';
  d.style.top = Math.round(cy - 4) + 'px';
}

panelIds.forEach((id, i) => {
  const row = Math.floor(i / 4), col = i % 4;
  const f = frames[i];
  const [l, t, r, b] = f;
  const xGene = xGenes[row], yGene = yGenes[col];

  const cv = document.createElement('canvas');
  const cl = Math.round(l - PADL), ct = Math.round(t - PADT);
  const w = Math.round(r + PADR) - cl, h = Math.round(b + PADB) - ct;
  cv.width = w; cv.height = h;
  cv.style.left = cl + 'px';
  cv.style.top = ct + 'px';
  cv.style.width = w + 'px';
  cv.style.height = h + 'px';
  document.body.appendChild(cv);

  new Chart(cv, {
    type: 'scatter',
    data: {
      datasets: [
        {
          data: points[i].map(p => ({ x: p[0], y: p[1] })),
          backgroundColor: '#0000ff',
          borderWidth: 0,
          pointRadius: 2.1
        },
        {
          type: 'line',
          data: fits[i].map(p => ({ x: p[0], y: p[1] })),
          borderColor: '#f07878',
          borderWidth: 1,
          pointRadius: 0,
          fill: false
        }
      ]
    },
    options: {
      responsive: false,
      animation: false,
      events: [],
      layout: { padding: { left: Math.round(l) - cl, top: Math.round(t) - ct, right: Math.round(r + PADR) - Math.round(r), bottom: Math.round(b + PADB) - Math.round(b) } },
      scales: {
        x: { type: 'linear', display: false, min: f[4], max: f[5] },
        y: { type: 'linear', display: false, min: f[6], max: f[7] }
      },
      plugins: {
        legend: { display: false },
        tooltip: { enabled: false },
        rAxes: { xt: xTickLabels[row], yt: yTickLabels[col], yl: f[11], xl: f[12],
                 ytg: l - f[13], ytitle: yGene + ' expression' }
      }
    },
    plugins: [rAxes]
  });

  const lt = document.createElement('div');
  lt.className = 'letter';
  lt.textContent = id;
  lt.style.left = Math.round(f[8]) + 'px';
  lt.style.top = Math.round(f[9] - 2) + 'px';
  document.body.appendChild(lt);

  addText('ttl', corLabels[i], (l + r) / 2, f[10]);
  addText('axt', xGene + ' expression', (l + r) / 2, f[14]);
});
</script>
</body>
</html>
